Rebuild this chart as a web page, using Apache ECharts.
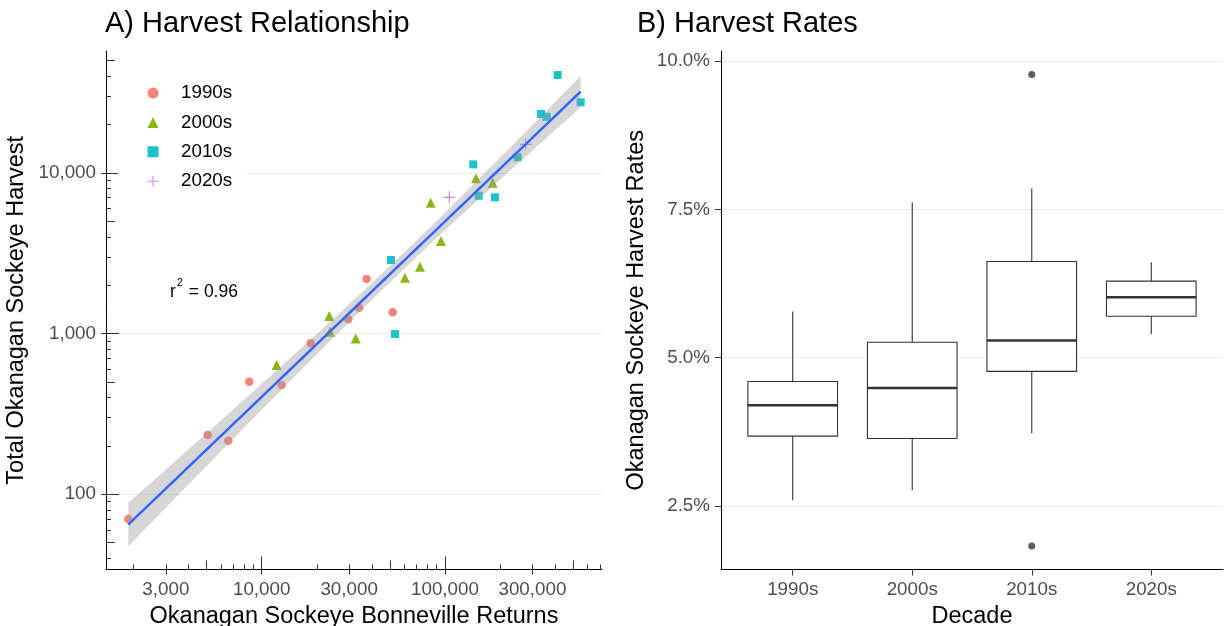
<!DOCTYPE html>
<html><head><meta charset="utf-8">
<script src="https://cdn.jsdelivr.net/npm/echarts@6/dist/echarts.min.js"></script>
<style>html,body{margin:0;padding:0;background:#fff}#c{width:1225px;height:626px}</style>
</head><body><div id="c"></div>
<script>
// ---------------- data ----------------
const decades = ['1990s', '2000s', '2010s', '2020s'];
const returns1990s = [1872, 5074, 6573, 8557, 12856, 18510, 29680, 33950, 37390, 51850];
const harvest1990s = [70, 234, 215, 501, 478, 869, 1226, 1447, 2184, 1355];
const returns2000s = [12070, 23380, 23590, 32570, 60490, 73050, 95100, 83560, 147600, 182000];
const harvest2000s = [637, 1285, 1026, 931, 2225, 2604, 3764, 6515, 9243, 8678];
const returns2010s = [50760, 53370, 142700, 152800, 187400, 249300, 334000, 358700, 411900, 550000];
const harvest2010s = [2867, 993, 11290, 7202, 7039, 12490, 23220, 22340, 40600, 27470];
const returns2020s = [105600, 275600];
const harvest2020s = [7039, 15040];
const rSquaredLabel = ['r', '2', ' = 0.96'];

const xBreaks = [3000, 10000, 30000, 100000, 300000];
const yBreaks = [100, 1000, 10000];
const xMinorShort = [2000, 3000, 4000, 6000, 7000, 8000, 9000, 20000, 30000, 40000, 60000, 70000, 80000, 90000, 200000, 300000, 400000, 600000, 700000];
const xMinorMid = [5000, 50000, 500000];
const xMinorLong = [10000, 100000];
const yMinorShort = [40, 60, 70, 80, 90, 200, 300, 400, 600, 700, 800, 900, 2000, 3000, 4000, 6000, 7000, 8000, 9000, 20000, 30000, 40000];
const yMinorMid = [50, 500, 5000, 50000];
const yMinorLong = [100, 1000, 10000];

const rateMin = [2.60, 2.77, 3.73, 5.40];
const rateQ1 = [3.68, 3.64, 4.77, 5.70];
const rateMedian = [4.20, 4.49, 5.29, 6.02];
const rateQ3 = [4.60, 5.26, 6.62, 6.29];
const rateMax = [5.78, 7.62, 7.85, 6.61];
const outlierDecade = ['2010s', '2010s'];
const outlierRate = [9.77, 1.83];
const rateBreaks = [2.5, 5.0, 7.5, 10.0];

// ---------------- regression (log-log) ----------------
const allX = [].concat(returns1990s, returns2000s, returns2010s, returns2020s);
const allY = [].concat(harvest1990s, harvest2000s, harvest2010s, harvest2020s);
const lx = allX.map(Math.log10), ly = allY.map(Math.log10);
const n = lx.length;
const mx = lx.reduce((a, b) => a + b, 0) / n, my = ly.reduce((a, b) => a + b, 0) / n;
let sxx = 0, sxy = 0;
for (let i = 0; i < n; i++) { sxx += (lx[i] - mx) ** 2; sxy += (lx[i] - mx) * (ly[i] - my); }
const slope = sxy / sxx, icpt = my - slope * mx;
let sse = 0;
for (let i = 0; i < n; i++) sse += (ly[i] - icpt - slope * lx[i]) ** 2;
const sRes = Math.sqrt(sse / (n - 2));
const tCrit = 2.042;
const lo = Math.min(...lx), hi = Math.max(...lx);
const fitLine = [], bandUpper = [], bandLower = [];
for (let i = 0; i <= 80; i++) {
  const x = lo + (hi - lo) * i / 80;
  const f = icpt + slope * x;
  const se = sRes * Math.sqrt(1 / n + (x - mx) ** 2 / sxx);
  fitLine.push([10 ** x, 10 ** f]);
  bandUpper.push([10 ** x, 10 ** (f + tCrit * se)]);
  bandLower.push([10 ** x, 10 ** (f - tCrit * se)]);
}

// ---------------- chart ----------------
const FONT = '"Liberation Sans", Arial, Helvetica, sans-serif';
const LABEL = { color: '#4d4d4d', fontSize: 18.8, fontFamily: FONT };
const NAME = { color: '#000', fontSize: 23.5, fontFamily: FONT };
const X_MIN = 1415, X_MAX = 719000, Y_MIN = 34, Y_MAX = 57300;
const R_MIN = 1.433, R_MAX = 10.167;
const fmtComma = v => Math.round(v).toLocaleString('en-US');

function minorAxis(min, max, vals, len, pos) {
  return {
    type: 'log', logBase: 10, gridIndex: 0, min: min, max: max, position: pos,
    axisLine: { show: false }, axisLabel: { show: false }, splitLine: { show: false },
    axisTick: { show: true, inside: true, length: len, customValues: vals, lineStyle: { color: '#333', width: 1 } }
  };
}

const zip = (a, b) => a.map((v, i) => [v, b[i]]);
const ptColors = ['#F8766D', '#7CAE00', '#00BFC4', '#C77CFF'];
const crossPath = 'path://M0,4.5H10V5.5H0Z M4.5,0H5.5V10H4.5Z';

const chart = echarts.init(document.getElementById('c'));
chart.setOption({
  animation: false,
  backgroundColor: '#fff',
  textStyle: { fontFamily: FONT },
  title: [
    { text: 'A) Harvest Relationship', left: 105, top: 9, padding: 0, textStyle: { fontSize: 29, fontWeight: 'normal', color: '#000', fontFamily: FONT } },
    { text: 'B) Harvest Rates', left: 637, top: 9, padding: 0, textStyle: { fontSize: 29, fontWeight: 'normal', color: '#000', fontFamily: FONT } }
  ],
  legend: {
    data: decades, orient: 'vertical', left: 118, top: 75,
    itemWidth: 11, itemHeight: 11, itemGap: 9.4,
    backgroundColor: '#fff', padding: [8, 13, 8, 29.5],
    textStyle: { fontSize: 18.8, color: '#000', fontFamily: FONT, lineHeight: 20, padding: [0, 0, 0, 17.5] }
  },
  grid: [
    { left: 106, top: 51, width: 496, height: 518.5, containLabel: false, outerBoundsMode: 'none' },
    { left: 721, top: 51, width: 502, height: 518.5, containLabel: false, outerBoundsMode: 'none' }
  ],
  graphic: [
    { type: 'text', left: 170, top: 277, style: {
        text: '{a|' + rSquaredLabel[0] + '}{b|' + rSquaredLabel[1] + '}{a|' + rSquaredLabel[2] + '}',
        rich: {
          a: { fontSize: 17.5, fill: '#000', fontFamily: FONT, verticalAlign: 'bottom', lineHeight: 24 },
          b: { fontSize: 11, fill: '#000', fontFamily: FONT, verticalAlign: 'top', lineHeight: 24, padding: [0, 1, 0, 1] }
        }
      } }
  ],
  xAxis: [
    {
      type: 'log', logBase: 10, gridIndex: 0, min: X_MIN, max: X_MAX, position: 'bottom',
      name: 'Okanagan Sockeye Bonneville Returns', nameLocation: 'middle', nameGap: 32, nameTextStyle: NAME,
      axisLine: { show: true, lineStyle: { color: '#000', width: 1 } },
      axisTick: { show: true, length: 5, customValues: xBreaks, lineStyle: { color: '#333' } },
      axisLabel: Object.assign({ customValues: xBreaks, formatter: fmtComma, margin: 11 }, LABEL),
      splitLine: { show: false }
    },
    minorAxis(X_MIN, X_MAX, xMinorShort, 5, 'bottom'),
    minorAxis(X_MIN, X_MAX, xMinorMid, 9, 'bottom'),
    minorAxis(X_MIN, X_MAX, xMinorLong, 13, 'bottom'),
    {
      type: 'value', gridIndex: 1, min: 0.4, max: 4.6, position: 'bottom',
      name: 'Decade', nameLocation: 'middle', nameGap: 32, nameTextStyle: NAME,
      axisLine: { show: true, lineStyle: { color: '#000', width: 1 } },
      axisTick: { show: true, length: 6, customValues: [1, 2, 3, 4], lineStyle: { color: '#333' } },
      axisLabel: Object.assign({ customValues: [1, 2, 3, 4], formatter: v => decades[Math.round(v) - 1], margin: 11 }, LABEL),
      splitLine: { show: false }
    }
  ],
  yAxis: [
    {
      type: 'log', logBase: 10, gridIndex: 0, min: Y_MIN, max: Y_MAX, position: 'left',
      name: 'Total Okanagan Sockeye Harvest', nameLocation: 'middle', nameGap: 77, nameRotate: 90, nameTextStyle: NAME,
      axisLine: { show: true, lineStyle: { color: '#000', width: 1 } },
      axisTick: { show: true, length: 5, customValues: yBreaks, lineStyle: { color: '#333' } },
      axisLabel: Object.assign({ customValues: yBreaks, formatter: fmtComma, margin: 10 }, LABEL),
      splitLine: { show: true, lineStyle: { color: '#ebebeb', width: 1 } }
    },
    minorAxis(Y_MIN, Y_MAX, yMinorShort, 5, 'left'),
    minorAxis(Y_MIN, Y_MAX, yMinorMid, 9, 'left'),
    minorAxis(Y_MIN, Y_MAX, yMinorLong, 13, 'left'),
    {
      type: 'value', gridIndex: 1, min: R_MIN, max: R_MAX, position: 'left',
      name: 'Okanagan Sockeye Harvest Rates', nameLocation: 'middle', nameGap: 72, nameRotate: 90, nameTextStyle: NAME,
      axisLine: { show: true, lineStyle: { color: '#000', width: 1 } },
      axisTick: { show: true, length: 6, customValues: rateBreaks, lineStyle: { color: '#333' } },
      axisLabel: Object.assign({ customValues: rateBreaks, formatter: v => v.toFixed(1) + '%', margin: 11 }, LABEL),
      splitLine: { show: true, lineStyle: { color: '#ebebeb', width: 1 } }
    }
  ],
  series: [
    { name: '1990s', type: 'scatter', xAxisIndex: 0, yAxisIndex: 0, z: 2, symbol: 'circle', symbolSize: 8.5, symbolKeepAspect: true,
      itemStyle: { color: ptColors[0], opacity: 0.9 }, data: zip(returns1990s, harvest1990s) },
    { name: '2000s', type: 'scatter', xAxisIndex: 0, yAxisIndex: 0, z: 2, symbol: 'triangle', symbolSize: 10, symbolKeepAspect: true,
      itemStyle: { color: ptColors[1], opacity: 0.9 }, data: zip(returns2000s, harvest2000s) },
    { name: '2010s', type: 'scatter', xAxisIndex: 0, yAxisIndex: 0, z: 2, symbol: 'rect', symbolSize: 8, symbolKeepAspect: true,
      itemStyle: { color: ptColors[2], opacity: 0.9 }, data: zip(returns2010s, harvest2010s) },
    { name: '2020s', type: 'scatter', xAxisIndex: 0, yAxisIndex: 0, z: 2, symbol: crossPath, symbolSize: 12, symbolKeepAspect: true,
      itemStyle: { color: ptColors[3], opacity: 0.9 }, data: zip(returns2020s, harvest2020s) },
    {
      type: 'custom', xAxisIndex: 0, yAxisIndex: 0, z: 3, silent: true, data: fitLine,
      renderItem: (params, api) => {
        if (params.dataIndex !== 0) return null;
        const pts = bandUpper.map(p => api.coord(p)).concat(bandLower.slice().reverse().map(p => api.coord(p)));
        return { type: 'polygon', shape: { points: pts }, style: { fill: 'rgba(153,153,153,0.4)' } };
      }
    },
    { type: 'line', xAxisIndex: 0, yAxisIndex: 0, z: 4, silent: true, data: fitLine, showSymbol: false, smooth: false,
      lineStyle: { color: '#3366FF', width: 2.5 } },
    {
      type: 'custom', xAxisIndex: 4, yAxisIndex: 4, z: 2, silent: true,
      data: decades.map((d, i) => [i + 1, rateMin[i], rateQ1[i], rateMedian[i], rateQ3[i], rateMax[i]]),
      encode: { x: 0, y: [1, 2, 3, 4, 5] },
      renderItem: (params, api) => {
        const x = api.value(0);
        const half = api.size([0.75, 0])[0] / 2;
        const pMin = api.coord([x, api.value(1)]), pQ1 = api.coord([x, api.value(2)]);
        const pMed = api.coord([x, api.value(3)]), pQ3 = api.coord([x, api.value(4)]);
        const pMax = api.coord([x, api.value(5)]);
        const st = { stroke: '#333', lineWidth: 1.1, fill: null };
        return { type: 'group', children: [
          { type: 'line', shape: { x1: pMin[0], y1: pMin[1], x2: pQ1[0], y2: pQ1[1] }, style: st },
          { type: 'line', shape: { x1: pQ3[0], y1: pQ3[1], x2: pMax[0], y2: pMax[1] }, style: st },
          { type: 'rect', shape: { x: pQ3[0] - half, y: pQ3[1], width: 2 * half, height: pQ1[1] - pQ3[1] },
            style: { fill: '#fff', stroke: '#333', lineWidth: 1.1 } },
          { type: 'line', shape: { x1: pMed[0] - half, y1: pMed[1], x2: pMed[0] + half, y2: pMed[1] },
            style: { stroke: '#333', lineWidth: 2.6 } }
        ] };
      }
    },
    { type: 'scatter', xAxisIndex: 4, yAxisIndex: 4, z: 3, symbol: 'circle', symbolSize: 7,
      itemStyle: { color: '#333' }, data: outlierDecade.map((d, i) => [decades.indexOf(d) + 1, outlierRate[i]]) }
  ]
});
</script></body></html>
